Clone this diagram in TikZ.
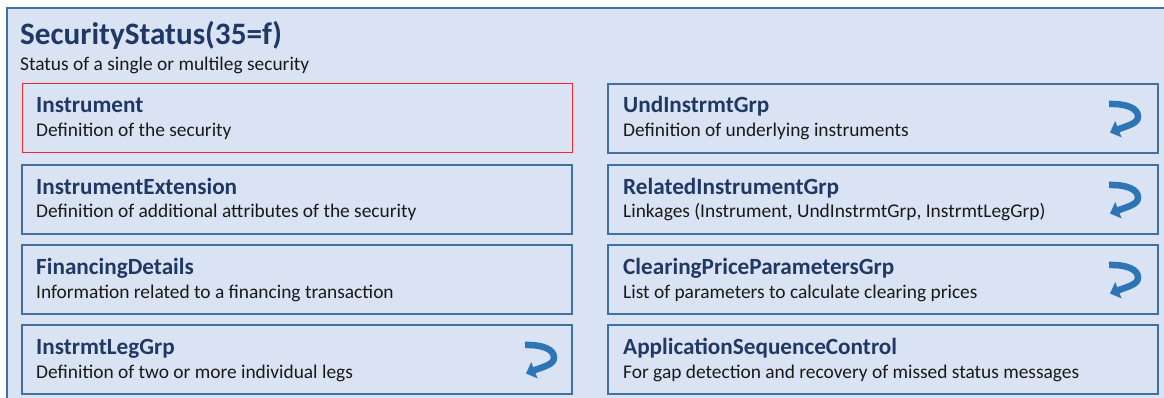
\documentclass[tikz,border=0pt]{standalone}
\usepackage{fontspec}
\setmainfont{Carlito}
\usetikzlibrary{positioning,arrows.meta}
\definecolor{panelfill}{HTML}{DAE3F3}
\definecolor{paneledge}{HTML}{41719C}
\definecolor{headblue}{HTML}{1F3864}
\definecolor{arrowblue}{HTML}{2E75B6}
\definecolor{markred}{HTML}{F0282D}

\begin{document}
\begin{tikzpicture}[x=1pt, y=-1pt,
  msgbox/.style={draw=paneledge, line width=1.5pt, fill=panelfill, minimum width=550pt,
    minimum height=69pt, anchor=north west, inner sep=0pt, outer sep=0pt},
  grphead/.style={anchor=base west, text=headblue, inner sep=0pt,
    font=\fontsize{23.2}{27}\selectfont\bfseries},
  grpdesc/.style={anchor=base west, text=black!90, inner sep=0pt,
    font=\fontsize{19.4}{23}\selectfont},
  loopback/.pic={
    \draw[arrowblue, line width=6.5pt, -{Triangle[length=9pt, width=17pt]}]
      (-14,-12.5) .. controls (4,-13) and (15,-8) .. (15,0)
      .. controls (15,7) and (5,9) .. (-13,16);
  }]
\useasboundingbox (0,0) rectangle (1164,398);
\clip (0,0) rectangle (1164,398);
\draw[draw=paneledge, line width=1.5pt, fill=panelfill] (7,8) rectangle (1180,420);
\node[anchor=base west, text=headblue, inner sep=0pt, font=\fontsize{31.2}{36}\selectfont\bfseries]
  (title) at (20,45) {SecurityStatus(35=f)};
\node[grpdesc] (subtitle) at (20,71) {Status of a single or multileg security};
% left column
\node[msgbox, draw=markred, line width=1pt] (instr) at (22,84) {};
\node[msgbox] (instrext) at (22,165) {};
\node[msgbox] (fin) at (22,245) {};
\node[msgbox] (leg) at (22,325) {};
% right column
\node[msgbox] (undgrp) at (608,84) {};
\node[msgbox] (relgrp) at (608,165) {};
\node[msgbox] (clrgrp) at (608,245) {};
\node[msgbox] (appseq) at (608,325) {};
% headings and descriptions
\node[grphead] (instr-h) at ([shift={(14,29)}]instr.north west) {Instrument};
\node[grpdesc] (instr-d) at ([shift={(14,53)}]instr.north west) {Definition of the security};
\node[grphead] (instrext-h) at ([shift={(14,29)}]instrext.north west) {InstrumentExtension};
\node[grpdesc] (instrext-d) at ([shift={(14,53)}]instrext.north west) {Definition of additional attributes of the security};
\node[grphead] (fin-h) at ([shift={(14,29)}]fin.north west) {FinancingDetails};
\node[grpdesc] (fin-d) at ([shift={(14,53)}]fin.north west) {Information related to a financing transaction};
\node[grphead] (leg-h) at ([shift={(14,29)}]leg.north west) {InstrmtLegGrp};
\node[grpdesc] (leg-d) at ([shift={(14,53)}]leg.north west) {Definition of two or more individual legs};
\node[grphead] (undgrp-h) at ([shift={(15,29)}]undgrp.north west) {UndInstrmtGrp};
\node[grpdesc] (undgrp-d) at ([shift={(15,53)}]undgrp.north west) {Definition of underlying instruments};
\node[grphead] (relgrp-h) at ([shift={(15,29)}]relgrp.north west) {RelatedInstrumentGrp};
\node[grpdesc] (relgrp-d) at ([shift={(15,53)}]relgrp.north west) {Linkages (Instrument, UndInstrmtGrp, InstrmtLegGrp)};
\node[grphead] (clrgrp-h) at ([shift={(15,29)}]clrgrp.north west) {ClearingPriceParametersGrp};
\node[grpdesc] (clrgrp-d) at ([shift={(15,53)}]clrgrp.north west) {List of parameters to calculate clearing prices};
\node[grphead] (appseq-h) at ([shift={(15,29)}]appseq.north west) {ApplicationSequenceControl};
\node[grpdesc] (appseq-d) at ([shift={(15,53)}]appseq.north west) {For gap detection and recovery of missed status messages};
% repeating group markers
\pic at ([shift={(-35,-2)}]undgrp.east) {loopback};
\pic at ([shift={(-35,-2)}]relgrp.east) {loopback};
\pic at ([shift={(-35,-2)}]clrgrp.east) {loopback};
\pic at ([shift={(-33,-2)}]leg.east) {loopback};
\end{tikzpicture}
\end{document}
